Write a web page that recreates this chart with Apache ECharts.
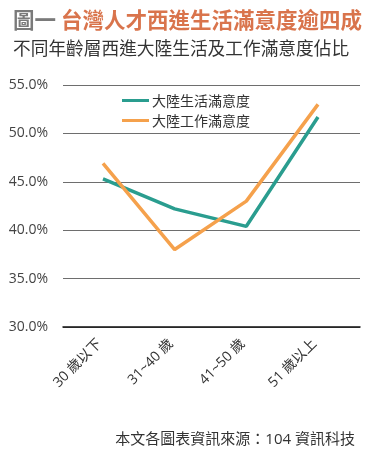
<!DOCTYPE html>
<html><head><meta charset="utf-8">
<script src="https://cdn.jsdelivr.net/npm/echarts@6/dist/echarts.min.js"></script>
<style>html,body{margin:0;padding:0;background:#fff}#c{width:387px;height:460px}</style>
</head><body><div id="c"></div>
<script>
var categories = ['30 歲以下', '31~40 歲', '41~50 歲', '51 歲以上'];
var lifeValues = [45.3, 42.2, 40.4, 51.7];
var workValues = [46.9, 38.0, 43.0, 53.0];
var seriesNames = ['大陸生活滿意度', '大陸工作滿意度'];
var titleLead = '圖一';
var titleMain = '台灣人才西進生活滿意度逾四成';
var subtitle = '不同年齡層西進大陸生活及工作滿意度佔比';
var footer = '本文各圖表資訊來源：104 資訊科技';

var FONT = "'Open Sans','Noto Sans CJK TC',sans-serif";
var CJK = "'Noto Sans CJK TC',sans-serif";
var chart = echarts.init(document.getElementById('c'), null, {renderer: 'canvas'});
chart.setOption({
  animation: false,
  title: [
    {left: 8, top: 4, text: '{a|' + titleLead + '} {b|' + titleMain + '}',
     textStyle: {rich: {
       a: {fontSize: 21.5, fontWeight: 'bold', color: '#7a7a7a', fontFamily: CJK},
       b: {fontSize: 21.5, fontWeight: 'bold', color: '#d9744c', fontFamily: CJK}
     }}},
    {left: 8, top: 34, text: subtitle, textStyle: {fontSize: 17.7, fontWeight: 'normal', color: '#333', fontFamily: CJK}},
    {right: 27, top: 427, text: footer, textStyle: {fontSize: 15, fontWeight: 'normal', color: '#333', fontFamily: FONT}}
  ],
  legend: {
    orient: 'vertical', left: 117, top: 88, icon: 'rect', itemWidth: 27, itemHeight: 3,
    itemGap: 5, data: seriesNames,
    textStyle: {fontSize: 14, color: '#333', fontFamily: CJK, lineHeight: 15, padding: [0, 0, 0, -2]}
  },
  grid: [
    {left: 63, right: 27, top: 85, bottom: 133},
    {left: 103, right: 69, top: 85, bottom: 133}
  ],
  xAxis: [
    {gridIndex: 0, type: 'category', data: categories, show: true,
     axisLine: {show: true, lineStyle: {color: '#111', width: 1.5}},
     axisTick: {show: false}, axisLabel: {show: false}, splitLine: {show: false}},
    {gridIndex: 1, type: 'category', data: categories, boundaryGap: false,
     axisLine: {show: false}, axisTick: {show: false},
     axisLabel: {rotate: 45, margin: 11, fontSize: 14, color: '#333', fontFamily: FONT, padding: [0, 5, 0, 0]}}
  ],
  yAxis: [
    {gridIndex: 0, type: 'value', min: 30, max: 55, interval: 5,
     axisLine: {show: false}, axisTick: {show: false},
     axisLabel: {margin: 15, fontSize: 14, color: '#444', fontFamily: FONT,
       formatter: function (v) { return v.toFixed(1) + '%'; }},
     splitLine: {lineStyle: {color: '#6e6e6e', width: 1}}},
    {gridIndex: 1, type: 'value', min: 30, max: 55, interval: 5, show: false, splitLine: {show: false}}
  ],
  series: [
    {name: seriesNames[0], type: 'line', xAxisIndex: 1, yAxisIndex: 1, data: lifeValues,
     showSymbol: false, color: '#2a9d8f', lineStyle: {width: 3.5, color: '#2a9d8f'}, z: 3},
    {name: seriesNames[1], type: 'line', xAxisIndex: 1, yAxisIndex: 1, data: workValues,
     showSymbol: false, color: '#f5a14c', lineStyle: {width: 3.5, color: '#f5a14c'}, z: 4}
  ]
});
</script></body></html>
